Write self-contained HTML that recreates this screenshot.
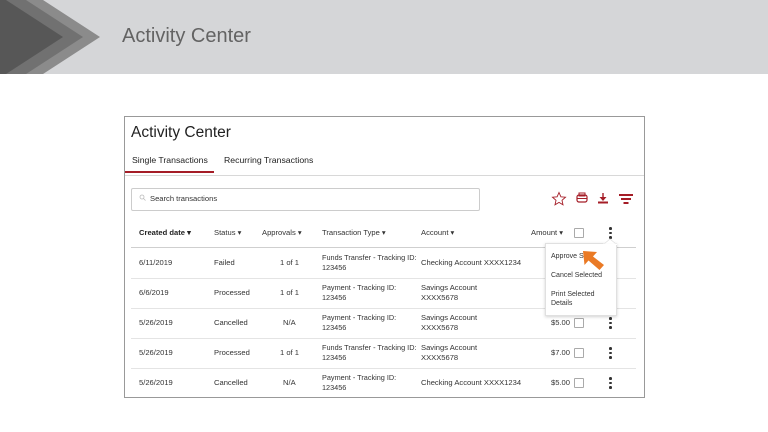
<!DOCTYPE html>
<html><head><meta charset="utf-8"><style>
*{margin:0;padding:0;box-sizing:border-box}
body{width:768px;height:432px;background:#fff;position:relative;overflow:hidden;font-family:"Liberation Sans",sans-serif;color:#333}
.a{position:absolute;white-space:nowrap;line-height:1}
.t{font-size:7.6px;color:#333}
.tt{font-size:7.3px;color:#333}
.h{font-size:7.6px;color:#333}
.line{position:absolute;height:1px;background:#e4e4e4;left:131px;width:505px}
.cb{position:absolute;width:10px;height:10px;border:1px solid #aaa;border-radius:1px;background:#fff}
.keb{position:absolute;width:3px}
.keb i{display:block;width:2.6px;height:2.6px;border-radius:50%;background:#333;margin-bottom:2px}
</style></head><body>
<div style="position:absolute;left:0;top:0;width:768px;height:74px;background:#d5d6d8"></div>
<svg style="position:absolute;left:0;top:0" width="120" height="74">
<polygon points="0,0 43,0 100,37 43,74 0,74" fill="#8b8b8b"/>
<polygon points="0,0 26,0 83,37 26,74 0,74" fill="#717171"/>
<polygon points="0,0 6,0 63,37 6,74 0,74" fill="#575757"/>
</svg>
<div class="a" style="left:122px;top:26px;font-size:20px;color:#636363">Activity Center</div>

<div style="position:absolute;left:124px;top:116px;width:521px;height:282px;border:1px solid #999;background:#fff"></div>
<div class="a" style="left:131px;top:125px;font-size:15.5px;color:#222">Activity Center</div>
<div class="a" style="left:132px;top:156px;font-size:8.7px;color:#222">Single Transactions</div>
<div class="a" style="left:224px;top:156px;font-size:8.7px;color:#222">Recurring Transactions</div>
<div style="position:absolute;left:125px;top:175px;width:519px;height:1px;background:#d8d8d8"></div>
<div style="position:absolute;left:125px;top:171px;width:89px;height:2px;background:#a51d27"></div>

<div style="position:absolute;left:131px;top:188px;width:349px;height:23px;border:1px solid #ccc;border-radius:2px"></div>
<svg style="position:absolute;left:139px;top:194px" width="8" height="8"><circle cx="3" cy="3" r="2" fill="none" stroke="#bbb" stroke-width="0.8"/><line x1="4.5" y1="4.5" x2="6.5" y2="6.5" stroke="#bbb" stroke-width="0.8"/></svg>
<div class="a" style="left:150px;top:195px;font-size:7.6px;color:#333">Search transactions</div>

<svg style="position:absolute;left:550px;top:190px" width="85" height="18">
<polygon points="9,2.5 10.9,6.8 15.5,7.2 12,10.3 13,14.8 9,12.4 5,14.8 6,10.3 2.5,7.2 7.1,6.8" fill="none" stroke="#a51d27" stroke-width="0.9"/>
<rect x="27" y="5" width="10" height="7" rx="2" fill="none" stroke="#a51d27" stroke-width="1.2"/>
<rect x="29" y="3" width="6" height="3" fill="none" stroke="#a51d27" stroke-width="1"/>
<line x1="27" y1="8.5" x2="37" y2="8.5" stroke="#a51d27" stroke-width="1"/>
<line x1="53" y1="3" x2="53" y2="10" stroke="#a51d27" stroke-width="1.4"/>
<polygon points="49.5,7 56.5,7 53,11" fill="#a51d27"/>
<rect x="48" y="11.5" width="10" height="2" fill="#a51d27"/>
<rect x="69" y="4" width="14" height="2" fill="#a51d27"/>
<rect x="71" y="8" width="10" height="2" fill="#a51d27"/>
<rect x="73.5" y="12" width="5" height="2" fill="#a51d27"/>
</svg>

<div class="a h" style="left:139px;top:229px;font-weight:bold;color:#222">Created date &#9662;</div>
<div class="a h" style="left:214px;top:229px">Status &#9662;</div>
<div class="a h" style="left:262px;top:229px">Approvals &#9662;</div>
<div class="a h" style="left:322px;top:229px">Transaction Type &#9662;</div>
<div class="a h" style="left:421px;top:229px">Account &#9662;</div>
<div class="a h" style="left:531px;top:229px">Amount &#9662;</div>
<div class="cb" style="left:574px;top:228px"></div>
<div class="keb" style="left:609px;top:227px"><i></i><i></i><i></i></div>
<div class="line" style="top:247px;background:#cfcfcf"></div>

<!-- row1 -->
<div class="a t" style="left:139px;top:259px">6/11/2019</div>
<div class="a t" style="left:214px;top:259px">Failed</div>
<div class="a t" style="left:280px;top:259px">1 of 1</div>
<div class="a tt" style="left:322px;top:254px">Funds Transfer - Tracking ID:</div>
<div class="a tt" style="left:322px;top:264px">123456</div>
<div class="a t" style="left:421px;top:259px">Checking Account XXXX1234</div>
<div class="line" style="top:278px"></div>
<!-- row2 -->
<div class="a t" style="left:139px;top:289px">6/6/2019</div>
<div class="a t" style="left:214px;top:289px">Processed</div>
<div class="a t" style="left:280px;top:289px">1 of 1</div>
<div class="a tt" style="left:322px;top:284px">Payment - Tracking ID:</div>
<div class="a tt" style="left:322px;top:294px">123456</div>
<div class="a t" style="left:421px;top:284px">Savings Account</div>
<div class="a t" style="left:421px;top:294px">XXXX5678</div>
<div class="line" style="top:308px"></div>
<!-- row3 -->
<div class="a t" style="left:139px;top:319px">5/26/2019</div>
<div class="a t" style="left:214px;top:319px">Cancelled</div>
<div class="a t" style="left:283px;top:319px">N/A</div>
<div class="a tt" style="left:322px;top:314px">Payment - Tracking ID:</div>
<div class="a tt" style="left:322px;top:324px">123456</div>
<div class="a t" style="left:421px;top:314px">Savings Account</div>
<div class="a t" style="left:421px;top:324px">XXXX5678</div>
<div class="a t" style="left:551px;top:319px">$5.00</div>
<div class="cb" style="left:574px;top:318px"></div>
<div class="keb" style="left:609px;top:317px"><i></i><i></i><i></i></div>
<div class="line" style="top:338px"></div>
<!-- row4 -->
<div class="a t" style="left:139px;top:349px">5/26/2019</div>
<div class="a t" style="left:214px;top:349px">Processed</div>
<div class="a t" style="left:280px;top:349px">1 of 1</div>
<div class="a tt" style="left:322px;top:344px">Funds Transfer - Tracking ID:</div>
<div class="a tt" style="left:322px;top:354px">123456</div>
<div class="a t" style="left:421px;top:344px">Savings Account</div>
<div class="a t" style="left:421px;top:354px">XXXX5678</div>
<div class="a t" style="left:551px;top:349px">$7.00</div>
<div class="cb" style="left:574px;top:348px"></div>
<div class="keb" style="left:609px;top:347px"><i></i><i></i><i></i></div>
<div class="line" style="top:368px"></div>
<!-- row5 -->
<div class="a t" style="left:139px;top:379px">5/26/2019</div>
<div class="a t" style="left:214px;top:379px">Cancelled</div>
<div class="a t" style="left:283px;top:379px">N/A</div>
<div class="a tt" style="left:322px;top:374px">Payment - Tracking ID:</div>
<div class="a tt" style="left:322px;top:384px">123456</div>
<div class="a t" style="left:421px;top:379px">Checking Account XXXX1234</div>
<div class="a t" style="left:551px;top:379px">$5.00</div>
<div class="cb" style="left:574px;top:378px"></div>
<div class="keb" style="left:609px;top:377px"><i></i><i></i><i></i></div>

<!-- dropdown -->
<div style="position:absolute;left:545px;top:243px;width:72px;height:73px;background:#fff;border:1px solid #e0e0e0;box-shadow:0 1px 3px rgba(0,0,0,0.18)"></div>
<svg style="position:absolute;left:603px;top:238px" width="14" height="7"><polygon points="1,6 7,1 13,6" fill="#fff" stroke="#e0e0e0" stroke-width="0.8"/><rect x="0" y="5.6" width="14" height="2" fill="#fff"/></svg>
<div class="a" style="left:551px;top:253px;font-size:7px;color:#333">Approve Se</div>
<div class="a" style="left:551px;top:272px;font-size:7px;color:#333">Cancel Selected</div>
<div class="a" style="left:551px;top:291px;font-size:7px;color:#333">Print Selected</div>
<div class="a" style="left:551px;top:300px;font-size:7px;color:#333">Details</div>
<svg style="position:absolute;left:578px;top:246px" width="30" height="28">
<polygon points="5,5 19,6 15,10.5 26,19 21.5,24 10.5,14.5 6.5,19" fill="#ea7a25"/>
</svg>
</body></html>
